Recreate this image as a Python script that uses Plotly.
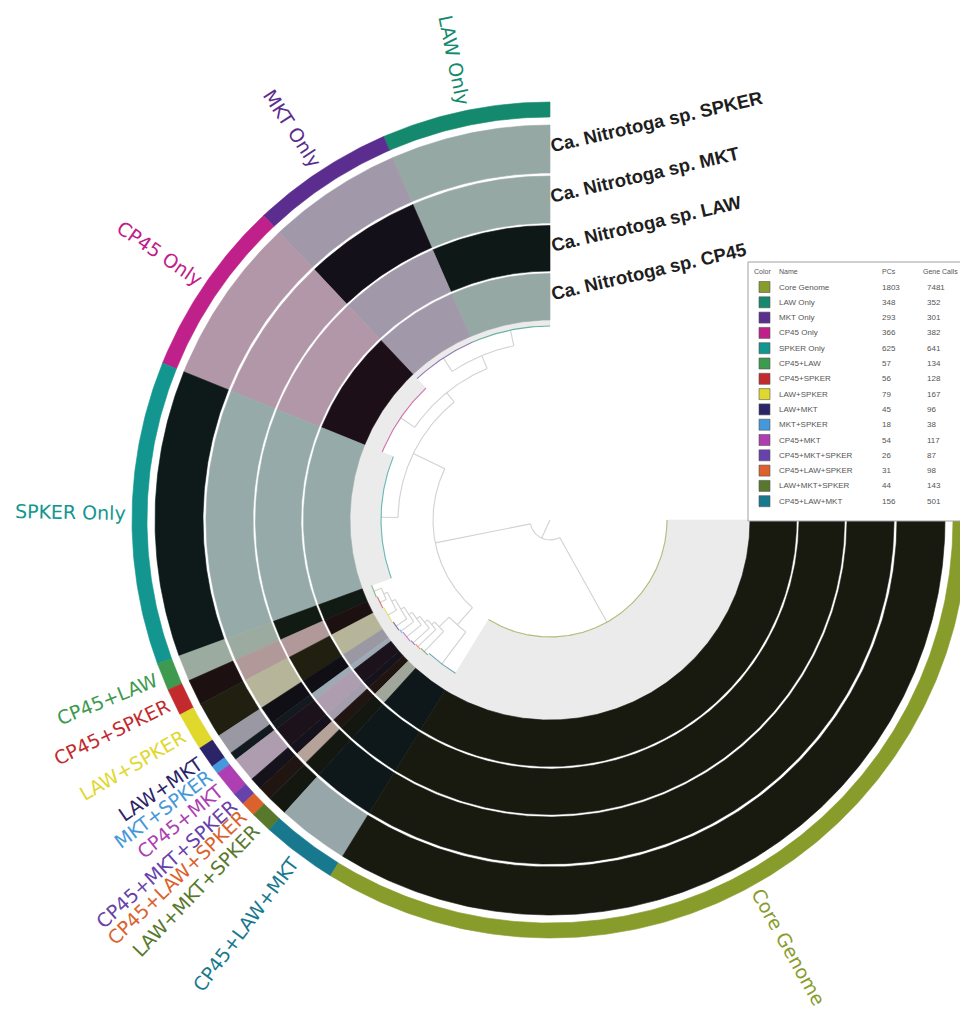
import math
import plotly.graph_objects as go

# ---------------- data ----------------
bin_names = ["LAW Only", "MKT Only", "CP45 Only", "SPKER Only", "CP45+LAW", "CP45+SPKER",
             "LAW+SPKER", "LAW+MKT", "MKT+SPKER", "CP45+MKT", "CP45+MKT+SPKER",
             "CP45+LAW+SPKER", "LAW+MKT+SPKER", "CP45+LAW+MKT", "Core Genome"]
bin_pcs = [348, 293, 366, 625, 57, 56, 79, 45, 18, 54, 26, 31, 44, 156, 1803]
bin_gene_calls = [352, 301, 382, 641, 134, 128, 167, 96, 38, 117, 87, 98, 143, 501, 7481]
bin_colors = ["#15896d", "#5b2d8e", "#c0208a", "#139690", "#3d9a4e", "#c22a2e",
              "#e0d82c", "#2c2468", "#4598da", "#ad3fb2", "#6742aa",
              "#db622c", "#58792c", "#18798e", "#889c2c"]
legend_order = ["Core Genome", "LAW Only", "MKT Only", "CP45 Only", "SPKER Only", "CP45+LAW",
                "CP45+SPKER", "LAW+SPKER", "LAW+MKT", "MKT+SPKER", "CP45+MKT",
                "CP45+MKT+SPKER", "CP45+LAW+SPKER", "LAW+MKT+SPKER", "CP45+LAW+MKT"]
genomes = ["SPKER", "MKT", "LAW", "CP45"]          # rings, outer -> inner
genome_labels = ["Ca. Nitrotoga sp. SPKER", "Ca. Nitrotoga sp. MKT",
                 "Ca. Nitrotoga sp. LAW", "Ca. Nitrotoga sp. CP45"]

# dendrogram: leaf depth of each bin and internal nodes (children, depth)
leaf_depth = [194, 194, 181, 169, 190, 189, 188, 187, 186, 185, 184, 183, 182, 180, 117]
tree_nodes = [
    ("n_law_mkt", ["LAW Only", "MKT Only"], 178),
    ("n_uniq3", ["n_law_mkt", "CP45 Only"], 164),
    ("n_uniq4", ["n_uniq3", "SPKER Only"], 152),
    ("s1", ["CP45+LAW", "CP45+SPKER"], 182),
    ("s2", ["s1", "LAW+SPKER"], 178),
    ("s3", ["s2", "LAW+MKT"], 174),
    ("s4", ["s3", "MKT+SPKER"], 170),
    ("s5", ["s4", "CP45+MKT"], 166),
    ("s6", ["s5", "CP45+MKT+SPKER"], 162),
    ("s7", ["s6", "CP45+LAW+SPKER"], 158),
    ("s8", ["s7", "LAW+MKT+SPKER"], 154),
    ("s9", ["s8", "CP45+LAW+MKT"], 140),
    ("n_acc", ["n_uniq4", "s9"], 117),
    ("root", ["n_acc", "Core Genome"], 20),
]

# ---------------- geometry / style ----------------
W, H = 960, 1009
CX, CY = 550, 520
START_DEG, SPAN_DEG = 90.0, 270.0
BIN_RING = (403, 418)
RINGS = [(347, 395), (297, 344), (249, 294.5), (200, 246.5)]
TREE_OUTER = 200
LABEL_R = 422

def xy(r, t):
    a = math.radians(t)
    return CX + r * math.cos(a), CY - r * math.sin(a)

def hex2rgb(h):
    h = h.lstrip("#")
    return [int(h[i:i + 2], 16) for i in (0, 2, 4)]

def rgb(c):
    return "rgb(%d,%d,%d)" % tuple(max(0, min(255, round(v))) for v in c)

def present_col(h):
    c = hex2rgb(h)
    return rgb([0.09 * v + 12 for v in c])

def absent_col(h):
    c = hex2rgb(h)
    return rgb([0.16 * v + 0.84 * 174 for v in c])

def sector(r0, r1, t0, t1):
    n = max(3, int(abs(t1 - t0) * 2) + 2)
    xs, ys = [], []
    for i in range(n + 1):
        t = t0 + (t1 - t0) * i / n
        x, y = xy(r1, t); xs.append(x); ys.append(y)
    for i in range(n + 1):
        t = t1 - (t1 - t0) * i / n
        x, y = xy(r0, t); xs.append(x); ys.append(y)
    xs.append(xs[0]); ys.append(ys[0])
    return xs, ys

def arc(r, t0, t1):
    n = max(2, int(abs(t1 - t0) * 2) + 2)
    pts = [xy(r, t0 + (t1 - t0) * i / n) for i in range(n + 1)]
    return [p[0] for p in pts], [p[1] for p in pts]

total = sum(bin_pcs)
bounds = []
cum = 0
for v in bin_pcs:
    t0 = START_DEG + cum / total * SPAN_DEG
    cum += v
    t1 = START_DEG + cum / total * SPAN_DEG
    bounds.append((t0, t1))

fig = go.Figure()

def add_poly(xs, ys, color):
    fig.add_trace(go.Scatter(x=xs, y=ys, mode="lines", fill="toself", fillcolor=color,
                             line=dict(color=color, width=0.6), hoverinfo="skip",
                             showlegend=False))

# light shaded leaf region of the tree
for i, name in enumerate(bin_names):
    t0, t1 = bounds[i]
    xs, ys = sector(leaf_depth[i], TREE_OUTER, t0, t1)
    add_poly(xs, ys, "#ebebeb")

# genome rings
for g, (r0, r1) in zip(genomes, RINGS):
    for i, name in enumerate(bin_names):
        t0, t1 = bounds[i]
        has = (name == "Core Genome") or (g in name.replace(" Only", "").split("+"))
        col = present_col(bin_colors[i]) if has else absent_col(bin_colors[i])
        xs, ys = sector(r0, r1, t0, t1)
        add_poly(xs, ys, col)

# bin colour ring
for i, name in enumerate(bin_names):
    t0, t1 = bounds[i]
    xs, ys = sector(BIN_RING[0], BIN_RING[1], t0, t1)
    add_poly(xs, ys, bin_colors[i])

# dendrogram
pos = {}
for i, name in enumerate(bin_names):
    pos[name] = ((bounds[i][0] + bounds[i][1]) / 2, leaf_depth[i])
tx, ty = [], []
for name, children, r in tree_nodes:
    angs = [pos[c][0] for c in children]
    a0, a1 = min(angs), max(angs)
    xs, ys = arc(r, a0, a1)
    tx += xs + [None]; ty += ys + [None]
    for c in children:
        ca, cr = pos[c]
        p0 = xy(r, ca); p1 = xy(cr, ca)
        tx += [p0[0], p1[0], None]; ty += [p0[1], p1[1], None]
    pos[name] = ((a0 + a1) / 2, r)
ra, rr = pos["root"]
p0 = xy(0, ra); p1 = xy(rr, ra)
tx += [p0[0], p1[0], None]; ty += [p0[1], p1[1], None]
fig.add_trace(go.Scatter(x=tx, y=ty, mode="lines", line=dict(color="#d2d2d2", width=1.1),
                         hoverinfo="skip", showlegend=False))
for i, name in enumerate(bin_names):
    t0, t1 = bounds[i]
    xs, ys = arc(leaf_depth[i], t0, t1)
    fig.add_trace(go.Scatter(x=xs, y=ys, mode="lines",
                             line=dict(color=bin_colors[i], width=1.1), opacity=0.6,
                             hoverinfo="skip", showlegend=False))

# ---------------- text ----------------
DJV = {"A": .684, "C": .698, "E": .632, "G": .775, "K": .656, "L": .557, "M": .863, "O": .787,
       "P": .603, "R": .695, "S": .635, "T": .611, "W": .989, "4": .636, "5": .636, "+": .838,
       " ": .318, "n": .634, "l": .278, "y": .592, "e": .615, "o": .612, "r": .411, "m": .974}
ARB = {"C": .722, "a": .556, ".": .278, " ": .278, "N": .722, "i": .278, "t": .333, "r": .389,
       "o": .611, "g": .611, "s": .556, "p": .611, "S": .667, "P": .667, "K": .722, "E": .667,
       "R": .722, "M": .833, "T": .611, "L": .611, "A": .722, "W": .944, "4": .556, "5": .556}

def text_len(s, table, size):
    return sum(table.get(ch, 0.6) for ch in s) * size

annotations = []
LABEL_SIZE = 19
for i, name in enumerate(bin_names):
    t = (bounds[i][0] + bounds[i][1]) / 2
    a = math.radians(t)
    if t <= 270:
        ang = math.degrees(math.atan2(math.sin(a), -math.cos(a)))
    else:
        ang = math.degrees(math.atan2(-math.sin(a), math.cos(a)))
    L = text_len(name, DJV, LABEL_SIZE)
    x, y = xy(LABEL_R + L / 2 + 2, t)
    annotations.append(dict(x=x, y=y, xref="x", yref="y", text=name, showarrow=False,
                            textangle=ang, xanchor="center", yanchor="middle",
                            font=dict(family="DejaVu Sans", size=LABEL_SIZE, color=bin_colors[i])))

GEN_SIZE = 18.5
GEN_ANG = 13
for lab, (r0, r1) in zip(genome_labels, RINGS):
    L = text_len(lab, ARB, GEN_SIZE)
    sx, sy = CX + 1, CY - (r0 + r1) / 2 - 3
    ca = math.radians(GEN_ANG)
    annotations.append(dict(x=sx + L / 2 * math.cos(ca), y=sy - L / 2 * math.sin(ca),
                            xref="x", yref="y", text="<b>%s</b>" % lab, showarrow=False,
                            textangle=-GEN_ANG, xanchor="center", yanchor="middle",
                            font=dict(family="Liberation Sans", size=GEN_SIZE, color="#1e1e1e")))

# ---------------- legend table ----------------
shapes = []
BX0, BY0, BX1, BY1 = 748, 262, 963, 521
shapes.append(dict(type="rect", xref="x", yref="y", x0=BX0, y0=BY0, x1=BX1, y1=BY1,
                   fillcolor="white", line=dict(color="#a0a0a0", width=1), layer="above"))
col_x = [752, 777, 880, 925]
hdr_x = [752, 777, 880, 921]
hdr = ["Color", "Name", "PCs", "Gene Calls"]
for cx_, h in zip(hdr_x, hdr):
    annotations.append(dict(x=cx_, y=BY0 + 9, xref="x", yref="y", text=h, showarrow=False,
                            xanchor="left", yanchor="middle",
                            font=dict(family="Liberation Sans", size=7, color="#555")))
ROW0, ROWH = 287, 15.3
for k, name in enumerate(legend_order):
    i = bin_names.index(name)
    yy = ROW0 + k * ROWH
    shapes.append(dict(type="rect", xref="x", yref="y", x0=759, x1=770, y0=yy - 5.5, y1=yy + 5.5,
                       fillcolor=bin_colors[i], line=dict(color="#555", width=0.6), layer="above"))
    for cx_, txt in zip(col_x[1:], [name, str(bin_pcs[i]), str(bin_gene_calls[i])]):
        annotations.append(dict(x=cx_, y=yy, xref="x", yref="y", text=txt, showarrow=False,
                                xanchor="left", yanchor="middle",
                                font=dict(family="Liberation Sans", size=8, color="#555")))

fig.update_layout(
    width=W, height=H, margin=dict(l=0, r=0, t=0, b=0),
    paper_bgcolor="white", plot_bgcolor="white",
    xaxis=dict(range=[0, W], visible=False, fixedrange=True),
    yaxis=dict(range=[H, 0], visible=False, fixedrange=True),
    annotations=annotations, shapes=shapes, showlegend=False,
)
fig.write_html("out.html")
